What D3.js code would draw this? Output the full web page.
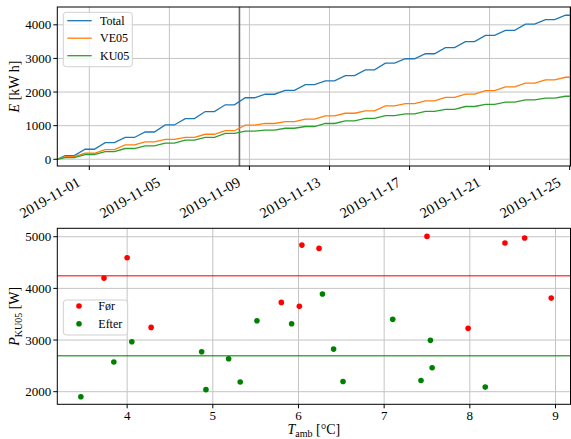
<!DOCTYPE html>
<html>
<head>
<meta charset="utf-8">
<script src="https://cdn.jsdelivr.net/npm/d3@7"></script>
<style>
body { margin: 0; background: #fff; }
text { font-family: "Liberation Serif", "DejaVu Serif", serif; fill: #000; }
</style>
</head>
<body>
<div id="chart"></div>
<script>
// energy per day (value reached at the end of each day's rise)
let days = ["2019-10-30", "2019-10-31", "2019-11-01", "2019-11-02", "2019-11-03", "2019-11-04",
            "2019-11-05", "2019-11-06", "2019-11-07", "2019-11-08", "2019-11-09", "2019-11-10",
            "2019-11-11", "2019-11-12", "2019-11-13", "2019-11-14", "2019-11-15", "2019-11-16",
            "2019-11-17", "2019-11-18", "2019-11-19", "2019-11-20", "2019-11-21", "2019-11-22",
            "2019-11-23", "2019-11-24"]
let total = [107, 298, 494, 649, 812, 1021, 1210, 1420, 1620, 1830, 1935, 2050, 2220, 2330,
             2490, 2660, 2860, 2990, 3140, 3320, 3500, 3685, 3835, 4020, 4155, 4285]
let ve05 = [77, 179, 290, 426, 520, 595, 650, 744, 850, 1015, 1065, 1119, 1195, 1289,
            1369, 1442, 1590, 1655, 1740, 1843, 1940, 2042, 2152, 2266, 2360, 2440]
let ku05 = [50, 140, 226, 320, 400, 480, 570, 650, 770, 840, 865, 923, 975, 1065,
            1145, 1215, 1300, 1350, 1425, 1485, 1570, 1635, 1700, 1770, 1820, 1875]
let startTime = "2019-10-30T09:36"
let endTime = "2019-11-25T01:00"
let markTime = "2019-11-08T12:00"
let dateTicks = ["2019-11-01", "2019-11-05", "2019-11-09", "2019-11-13", "2019-11-17", "2019-11-21", "2019-11-25"]
let energyTicks = [0, 1000, 2000, 3000, 4000]

// scatter: power vs ambient temperature
let forT = [3.73, 4.00, 4.28, 5.80, 6.01, 6.04, 6.24, 7.50, 7.98, 8.41, 8.64, 8.95]
let forP = [4199, 4592, 3245, 3729, 3652, 4838, 4774, 5006, 3226, 4877, 4974, 3812]
let efterT = [3.46, 3.845, 4.055, 4.87, 4.92, 5.185, 5.32, 5.515, 5.92, 6.28, 6.41, 6.52, 7.10, 7.43, 7.54, 7.56, 8.18]
let efterP = [1903, 2574, 2968, 2773, 2040, 2638, 2187, 3373, 3315, 3890, 2825, 2198, 3400, 2218, 2994, 2463, 2089]
let forMean = 4244
let efterMean = 2696
let tempTicks = [4, 5, 6, 7, 8, 9]
let powerTicks = [2000, 3000, 4000, 5000]

let width = 571
let height = 439
let left = 57.3
let right = 570.5

let svg = d3.select("#chart").append("svg")
    .attr("width", width)
    .attr("height", height)

let parseTime = d3.utcParse("%Y-%m-%dT%H:%M")
let parseDay = d3.utcParse("%Y-%m-%d")

// ---------- top: cumulative energy ----------
let top1 = 7, bottom1 = 166

let xTime = d3.scaleUtc()
    .domain([parseTime(startTime), parseTime(endTime)])
    .range([left, right])
let yE = d3.scaleLinear().domain([-200, 4530]).range([bottom1, top1])

function stepPoints(values){
    let pts = [[parseTime(startTime), 0]]
    values.forEach(function(v, i){
        let d = parseDay(days[i])
        if(i > 0){
            pts.push([d3.utcHour.offset(d, 6), values[i-1]])
        }
        pts.push([d3.utcHour.offset(d, 19), v])
    })
    pts.push([parseTime(endTime), values[values.length-1]])
    return pts
}

let g1 = svg.append("g")

g1.append("g").selectAll("line").data(dateTicks).enter().append("line")
    .attr("x1", d => xTime(parseDay(d))).attr("x2", d => xTime(parseDay(d)))
    .attr("y1", top1).attr("y2", bottom1)
    .attr("stroke", "#c4c4c4").attr("stroke-width", 1)
g1.append("g").selectAll("line").data(energyTicks).enter().append("line")
    .attr("x1", left).attr("x2", right)
    .attr("y1", d => yE(d)).attr("y2", d => yE(d))
    .attr("stroke", "#c4c4c4").attr("stroke-width", 1)

g1.append("line")
    .attr("x1", xTime(parseTime(markTime))).attr("x2", xTime(parseTime(markTime)))
    .attr("y1", top1).attr("y2", bottom1)
    .attr("stroke", "#6a6a6a").attr("stroke-width", 1.6)

let series = [
    {name: "Total", values: total, color: "#1f77b4"},
    {name: "VE05", values: ve05, color: "#ff7f0e"},
    {name: "KU05", values: ku05, color: "#2ca02c"}
]

let line = d3.line().x(d => xTime(d[0])).y(d => yE(d[1]))

series.forEach(function(s){
    g1.append("path")
        .attr("d", line(stepPoints(s.values)))
        .attr("fill", "none")
        .attr("stroke", s.color)
        .attr("stroke-width", 1.3)
})

g1.append("rect")
    .attr("x", left).attr("y", top1)
    .attr("width", right - left).attr("height", bottom1 - top1)
    .attr("fill", "none").attr("stroke", "#000").attr("stroke-width", 1)

// ticks
g1.append("g").selectAll("line").data(dateTicks).enter().append("line")
    .attr("x1", d => xTime(parseDay(d))).attr("x2", d => xTime(parseDay(d)))
    .attr("y1", bottom1).attr("y2", bottom1 + 4)
    .attr("stroke", "#000")
g1.append("g").selectAll("text").data(dateTicks).enter().append("text")
    .attr("transform", d => `translate(${xTime(parseDay(d)) - 8}, ${bottom1 + 19}) rotate(-30)`)
    .attr("text-anchor", "end")
    .attr("font-size", 14.5)
    .text(d => d)
g1.append("g").selectAll("line").data(energyTicks).enter().append("line")
    .attr("x1", left - 4).attr("x2", left)
    .attr("y1", d => yE(d)).attr("y2", d => yE(d))
    .attr("stroke", "#000")
g1.append("g").selectAll("text").data(energyTicks).enter().append("text")
    .attr("x", left - 6).attr("y", d => yE(d))
    .attr("dy", "0.35em")
    .attr("text-anchor", "end")
    .attr("font-size", 13)
    .text(d => d)

let yl1 = g1.append("text")
    .attr("transform", `translate(19, ${(top1 + bottom1) / 2}) rotate(-90)`)
    .attr("text-anchor", "middle")
    .attr("font-size", 14)
yl1.append("tspan").attr("font-style", "italic").text("E")
yl1.append("tspan").text(" [kW h]")

// legend
let leg1 = g1.append("g")
leg1.append("rect")
    .attr("x", 63.3).attr("y", 12.3).attr("width", 69).attr("height", 54.4)
    .attr("rx", 3).attr("fill", "#fff").attr("fill-opacity", 0.8)
    .attr("stroke", "#d0d0d0")
series.forEach(function(s, i){
    let yy = 20.7 + i * 17.5
    leg1.append("line")
        .attr("x1", 67.3).attr("x2", 91.7).attr("y1", yy).attr("y2", yy)
        .attr("stroke", s.color).attr("stroke-width", 1.3)
    leg1.append("text")
        .attr("x", 100).attr("y", yy).attr("dy", "0.35em")
        .attr("font-size", 12)
        .text(s.name)
})

// ---------- bottom: scatter ----------
let top2 = 228.3, bottom2 = 404.3

let xT = d3.scaleLinear().domain([3.185, 9.175]).range([left, right])
let yP = d3.scaleLinear().domain([1756, 5163]).range([bottom2, top2])

let g2 = svg.append("g")

g2.append("g").selectAll("line").data(tempTicks).enter().append("line")
    .attr("x1", d => xT(d)).attr("x2", d => xT(d))
    .attr("y1", top2).attr("y2", bottom2)
    .attr("stroke", "#c4c4c4").attr("stroke-width", 1)
g2.append("g").selectAll("line").data(powerTicks).enter().append("line")
    .attr("x1", left).attr("x2", right)
    .attr("y1", d => yP(d)).attr("y2", d => yP(d))
    .attr("stroke", "#c4c4c4").attr("stroke-width", 1)

g2.append("line")
    .attr("x1", left).attr("x2", right)
    .attr("y1", yP(forMean)).attr("y2", yP(forMean))
    .attr("stroke", "red").attr("stroke-opacity", 0.7).attr("stroke-width", 1.5)
g2.append("line")
    .attr("x1", left).attr("x2", right)
    .attr("y1", yP(efterMean)).attr("y2", yP(efterMean))
    .attr("stroke", "green").attr("stroke-opacity", 0.7).attr("stroke-width", 1.5)

g2.append("g").selectAll("circle").data(forT).enter().append("circle")
    .attr("cx", d => xT(d))
    .attr("cy", (d, i) => yP(forP[i]))
    .attr("r", 2.8)
    .attr("fill", "red")
g2.append("g").selectAll("circle").data(efterT).enter().append("circle")
    .attr("cx", d => xT(d))
    .attr("cy", (d, i) => yP(efterP[i]))
    .attr("r", 2.8)
    .attr("fill", "green")

g2.append("rect")
    .attr("x", left).attr("y", top2)
    .attr("width", right - left).attr("height", bottom2 - top2)
    .attr("fill", "none").attr("stroke", "#000").attr("stroke-width", 1)

g2.append("g").selectAll("line").data(tempTicks).enter().append("line")
    .attr("x1", d => xT(d)).attr("x2", d => xT(d))
    .attr("y1", bottom2).attr("y2", bottom2 + 4)
    .attr("stroke", "#000")
g2.append("g").selectAll("text").data(tempTicks).enter().append("text")
    .attr("x", d => xT(d)).attr("y", bottom2 + 16)
    .attr("text-anchor", "middle")
    .attr("font-size", 13)
    .text(d => d)
g2.append("g").selectAll("line").data(powerTicks).enter().append("line")
    .attr("x1", left - 4).attr("x2", left)
    .attr("y1", d => yP(d)).attr("y2", d => yP(d))
    .attr("stroke", "#000")
g2.append("g").selectAll("text").data(powerTicks).enter().append("text")
    .attr("x", left - 6).attr("y", d => yP(d))
    .attr("dy", "0.35em")
    .attr("text-anchor", "end")
    .attr("font-size", 13)
    .text(d => d)

let yl2 = g2.append("text")
    .attr("transform", `translate(19, ${(top2 + bottom2) / 2}) rotate(-90)`)
    .attr("text-anchor", "middle")
    .attr("font-size", 14)
yl2.append("tspan").attr("font-style", "italic").text("P")
yl2.append("tspan").attr("font-size", 10).attr("dy", 3).text("KU05")
yl2.append("tspan").attr("dy", -3).text(" [W]")

let xl2 = g2.append("text")
    .attr("x", (left + right) / 2).attr("y", 434)
    .attr("text-anchor", "middle")
    .attr("font-size", 14)
xl2.append("tspan").attr("font-style", "italic").text("T")
xl2.append("tspan").attr("font-size", 10).attr("dy", 3).text("amb")
xl2.append("tspan").attr("dy", -3).text(" [°C]")

let leg2 = g2.append("g")
leg2.append("rect")
    .attr("x", 63.3).attr("y", 300).attr("width", 64.4).attr("height", 35)
    .attr("rx", 3).attr("fill", "#fff").attr("fill-opacity", 0.8)
    .attr("stroke", "#d0d0d0")
let legItems = [{name: "Før", color: "red"}, {name: "Efter", color: "green"}]
legItems.forEach(function(s, i){
    let yy = 306 + i * 17.7
    leg2.append("circle").attr("cx", 79).attr("cy", yy).attr("r", 2.8).attr("fill", s.color)
    leg2.append("text")
        .attr("x", 98.3).attr("y", yy).attr("dy", "0.35em")
        .attr("font-size", 12)
        .text(s.name)
})
</script>
</body>
</html>
